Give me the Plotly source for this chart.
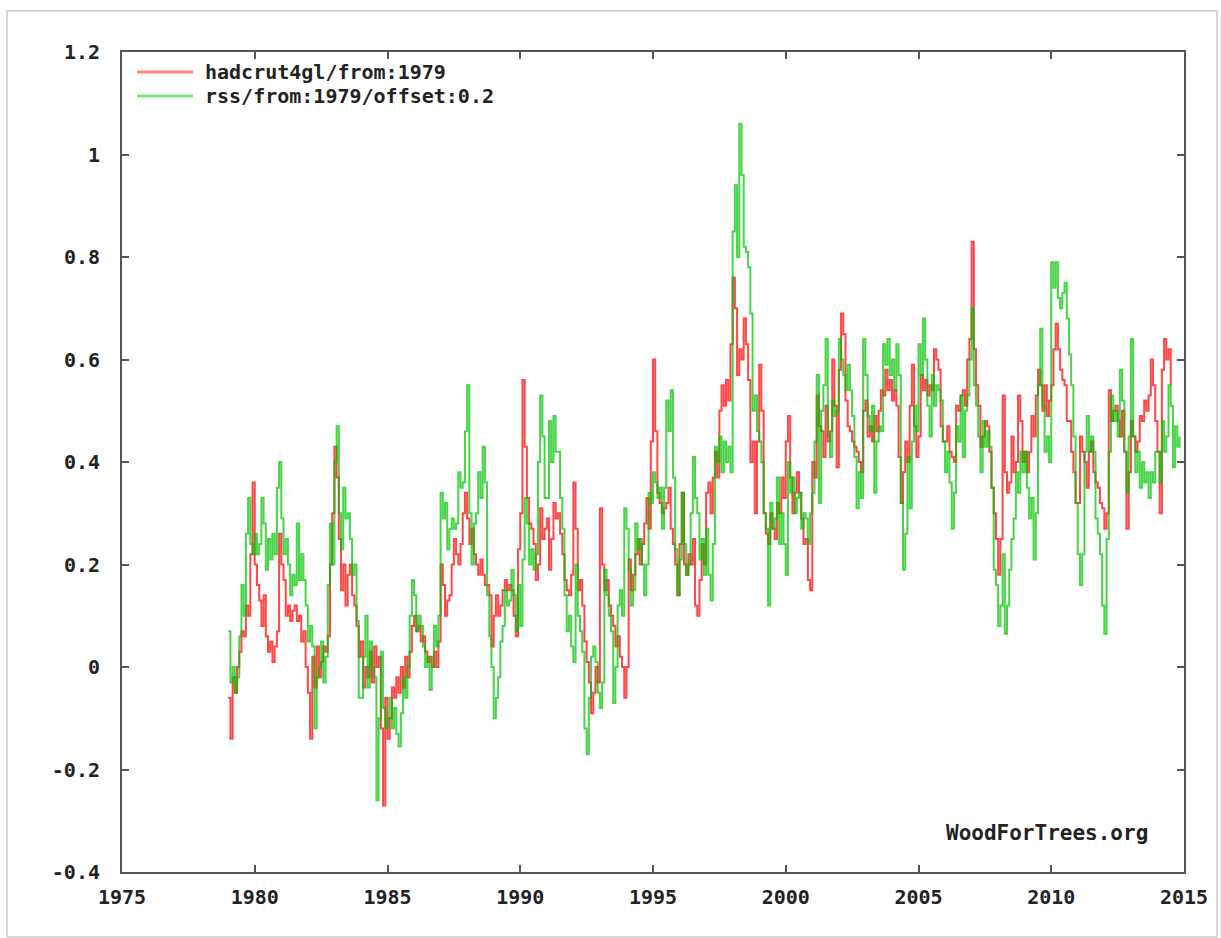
import plotly.graph_objects as go

start_year = 1979

# HadCRUT4 global monthly anomaly, Jan 1979 .. Jul 2014
hadcrut4gl = [
    -0.06, -0.14, -0.02, -0.05, 0.00, 0.03, 0.07, 0.06, 0.12, 0.10, 0.22, 0.36,   # 1979
    0.20, 0.16, 0.13, 0.08, 0.14, 0.06, 0.03, 0.05, 0.01, 0.04, 0.07, 0.26,       # 1980
    0.20, 0.17, 0.10, 0.12, 0.09, 0.11, 0.12, 0.09, 0.10, 0.05, 0.07, 0.00,       # 1981
    -0.05, -0.14, 0.02, -0.04, 0.04, -0.02, 0.01, 0.04, 0.03, 0.06, 0.20, 0.30,   # 1982
    0.43, 0.37, 0.25, 0.15, 0.20, 0.12, 0.18, 0.20, 0.14, 0.12, 0.08, 0.02,       # 1983
    0.05, -0.04, 0.00, -0.02, 0.03, -0.03, 0.04, 0.00, 0.02, -0.12, -0.27, -0.06, # 1984
    -0.14, -0.10, -0.04, -0.06, -0.02, -0.05, 0.00, -0.04, 0.02, -0.02, 0.03, 0.08,  # 1985
    0.10, 0.07, 0.08, 0.05, 0.06, 0.03, 0.01, 0.02, 0.00, 0.03, 0.00, 0.05,       # 1986
    0.20, 0.16, 0.10, 0.13, 0.14, 0.20, 0.25, 0.22, 0.20, 0.24, 0.30, 0.34,       # 1987
    0.29, 0.24, 0.27, 0.22, 0.20, 0.18, 0.21, 0.18, 0.16, 0.16, 0.14, 0.04,       # 1988
    0.10, 0.14, 0.10, 0.12, 0.15, 0.17, 0.15, 0.16, 0.15, 0.10, 0.06, 0.23,       # 1989
    0.30, 0.56, 0.43, 0.33, 0.28, 0.27, 0.24, 0.17, 0.20, 0.31, 0.25, 0.27,       # 1990
    0.29, 0.19, 0.25, 0.32, 0.29, 0.30, 0.26, 0.22, 0.17, 0.15, 0.14, 0.18,       # 1991
    0.36, 0.27, 0.15, 0.17, 0.12, 0.05, 0.01, -0.03, -0.09, -0.05, 0.00, -0.03,   # 1992
    0.31, 0.20, 0.15, 0.17, 0.12, 0.10, 0.08, 0.04, 0.06, 0.02, 0.00, -0.06,      # 1993
    0.00, 0.21, 0.15, 0.18, 0.22, 0.25, 0.20, 0.24, 0.28, 0.33, 0.27, 0.44,       # 1994
    0.60, 0.46, 0.34, 0.32, 0.30, 0.31, 0.32, 0.35, 0.27, 0.24, 0.20, 0.14,       # 1995
    0.24, 0.34, 0.20, 0.18, 0.22, 0.20, 0.25, 0.12, 0.10, 0.17, 0.24, 0.20,       # 1996
    0.34, 0.36, 0.30, 0.37, 0.42, 0.37, 0.50, 0.55, 0.51, 0.56, 0.52, 0.63,       # 1997
    0.76, 0.70, 0.57, 0.62, 0.60, 0.68, 0.63, 0.56, 0.40, 0.44, 0.30, 0.44,       # 1998
    0.59, 0.50, 0.30, 0.26, 0.24, 0.30, 0.27, 0.25, 0.32, 0.30, 0.37, 0.33,       # 1999
    0.44, 0.49, 0.37, 0.30, 0.34, 0.38, 0.34, 0.29, 0.24, 0.25, 0.17, 0.15,       # 2000
    0.40, 0.37, 0.53, 0.47, 0.46, 0.41, 0.51, 0.44, 0.46, 0.60, 0.51, 0.39,       # 2001
    0.58, 0.69, 0.65, 0.52, 0.47, 0.46, 0.44, 0.43, 0.42, 0.40, 0.38, 0.50,       # 2002
    0.52, 0.45, 0.47, 0.44, 0.49, 0.46, 0.50, 0.54, 0.53, 0.58, 0.54, 0.56,       # 2003
    0.52, 0.54, 0.51, 0.41, 0.32, 0.38, 0.44, 0.40, 0.51, 0.59, 0.47, 0.41,       # 2004
    0.45, 0.57, 0.54, 0.56, 0.53, 0.55, 0.54, 0.62, 0.60, 0.58, 0.47, 0.44,       # 2005
    0.44, 0.47, 0.42, 0.41, 0.40, 0.51, 0.50, 0.53, 0.54, 0.51, 0.60, 0.64,       # 2006
    0.83, 0.62, 0.55, 0.51, 0.43, 0.45, 0.48, 0.47, 0.42, 0.35, 0.30, 0.25,       # 2007
    0.18, 0.25, 0.53, 0.38, 0.34, 0.36, 0.45, 0.38, 0.40, 0.53, 0.48, 0.40,       # 2008
    0.42, 0.38, 0.42, 0.49, 0.45, 0.53, 0.58, 0.55, 0.50, 0.55, 0.49, 0.52,       # 2009
    0.55, 0.62, 0.67, 0.62, 0.58, 0.56, 0.55, 0.48, 0.48, 0.42, 0.38, 0.32,       # 2010
    0.32, 0.45, 0.42, 0.40, 0.35, 0.42, 0.44, 0.38, 0.36, 0.35, 0.32, 0.31,       # 2011
    0.27, 0.30, 0.54, 0.48, 0.50, 0.51, 0.48, 0.45, 0.50, 0.42, 0.27, 0.38,       # 2012
    0.48, 0.45, 0.42, 0.44, 0.49, 0.48, 0.52, 0.50, 0.53, 0.60, 0.55, 0.48,       # 2013
    0.42, 0.30, 0.58, 0.64, 0.60, 0.62, 0.55,                                     # 2014
]

# RSS lower troposphere + 0.2 offset, Jan 1979 .. Nov 2014
rss_offset = [
    0.07, -0.03, 0.00, -0.05, -0.02, 0.06, 0.16, 0.10, 0.26, 0.33, 0.24, 0.22,    # 1979
    0.26, 0.22, 0.24, 0.33, 0.28, 0.19, 0.25, 0.21, 0.26, 0.22, 0.35, 0.40,       # 1980
    0.29, 0.22, 0.25, 0.20, 0.14, 0.18, 0.16, 0.28, 0.17, 0.22, 0.17, 0.12,       # 1981
    0.05, 0.08, 0.04, -0.12, -0.02, 0.00, 0.05, -0.03, 0.02, 0.16, 0.28, 0.20,    # 1982
    0.40, 0.47, 0.30, 0.23, 0.35, 0.29, 0.30, 0.25, 0.18, 0.20, 0.09, -0.06,      # 1983
    -0.06, 0.02, 0.10, -0.04, 0.05, 0.00, -0.02, -0.26, -0.10, 0.03, -0.08, -0.12,  # 1984
    -0.10, -0.06, -0.12, -0.08, -0.13, -0.155, -0.09, -0.02, -0.06, 0.00, 0.10, 0.17,  # 1985
    0.14, 0.07, 0.10, 0.08, 0.04, 0.00, 0.02, -0.045, 0.00, 0.08, 0.04, 0.10,     # 1986
    0.34, 0.29, 0.32, 0.23, 0.27, 0.29, 0.27, 0.28, 0.38, 0.35, 0.36, 0.46,       # 1987
    0.55, 0.30, 0.20, 0.28, 0.30, 0.38, 0.33, 0.43, 0.36, 0.14, 0.06, 0.00,       # 1988
    -0.10, -0.06, -0.02, 0.05, 0.08, 0.15, 0.12, 0.13, 0.19, 0.14, 0.07, 0.16,    # 1989
    0.08, 0.21, 0.33, 0.28, 0.20, 0.23, 0.19, 0.22, 0.40, 0.53, 0.45, 0.33,       # 1990
    0.33, 0.48, 0.40, 0.49, 0.42, 0.42, 0.33, 0.27, 0.14, 0.07, 0.10, 0.04,       # 1991
    0.01, 0.20, 0.10, 0.07, 0.03, -0.12, -0.17, -0.06, 0.02, 0.04, 0.01, -0.05,   # 1992
    -0.08, -0.03, 0.19, 0.14, 0.10, 0.07, -0.07, 0.00, 0.12, 0.15, 0.10, 0.31,    # 1993
    0.27, 0.19, 0.12, 0.15, 0.28, 0.23, 0.25, 0.20, 0.14, 0.20, 0.34, 0.32,       # 1994
    0.38, 0.36, 0.33, 0.35, 0.27, 0.35, 0.52, 0.46, 0.54, 0.37, 0.23, 0.14,       # 1995
    0.21, 0.34, 0.24, 0.18, 0.20, 0.30, 0.41, 0.33, 0.30, 0.21, 0.25, 0.18,       # 1996
    0.27, 0.18, 0.13, 0.24, 0.43, 0.40, 0.45, 0.38, 0.44, 0.40, 0.43, 0.38,       # 1997
    0.85, 0.94, 0.80, 1.06, 0.96, 0.82, 0.81, 0.78, 0.69, 0.50, 0.53, 0.46,       # 1998
    0.44, 0.40, 0.30, 0.27, 0.12, 0.32, 0.27, 0.29, 0.37, 0.24, 0.30, 0.24,       # 1999
    0.18, 0.40, 0.34, 0.37, 0.30, 0.33, 0.34, 0.27, 0.30, 0.29, 0.24, 0.30,       # 2000
    0.34, 0.44, 0.57, 0.32, 0.50, 0.55, 0.64, 0.45, 0.41, 0.52, 0.49, 0.50,       # 2001
    0.64, 0.60, 0.57, 0.54, 0.59, 0.54, 0.49, 0.41, 0.31, 0.38, 0.33, 0.64,       # 2002
    0.57, 0.49, 0.46, 0.51, 0.34, 0.44, 0.47, 0.46, 0.63, 0.59, 0.64, 0.57,       # 2003
    0.60, 0.54, 0.63, 0.57, 0.32, 0.19, 0.26, 0.41, 0.31, 0.44, 0.51, 0.46,       # 2004
    0.63, 0.57, 0.68, 0.60, 0.51, 0.45, 0.57, 0.51, 0.55, 0.54, 0.52, 0.44,       # 2005
    0.38, 0.42, 0.36, 0.27, 0.34, 0.47, 0.44, 0.53, 0.41, 0.50, 0.53, 0.60,       # 2006
    0.70, 0.55, 0.51, 0.45, 0.38, 0.48, 0.43, 0.46, 0.43, 0.35, 0.19, 0.16,       # 2007
    0.08, 0.12, 0.22, 0.065, 0.12, 0.19, 0.25, 0.29, 0.38, 0.34, 0.42, 0.38,      # 2008
    0.42, 0.35, 0.29, 0.33, 0.21, 0.30, 0.55, 0.66, 0.51, 0.42, 0.45, 0.40,       # 2009
    0.79, 0.74, 0.79, 0.72, 0.70, 0.73, 0.75, 0.68, 0.61, 0.55, 0.45, 0.32,       # 2010
    0.22, 0.16, 0.22, 0.42, 0.49, 0.42, 0.45, 0.42, 0.29, 0.26, 0.22, 0.12,       # 2011
    0.065, 0.25, 0.42, 0.53, 0.48, 0.50, 0.45, 0.58, 0.52, 0.42, 0.34, 0.45,      # 2012
    0.64, 0.45, 0.38, 0.42, 0.35, 0.40, 0.36, 0.38, 0.33, 0.38, 0.36, 0.42,       # 2013
    0.42, 0.36, 0.48, 0.42, 0.45, 0.55, 0.51, 0.39, 0.47, 0.43, 0.45,             # 2014
]

series_names = ["hadcrut4gl/from:1979", "rss/from:1979/offset:0.2"]
series_colors = ["rgba(255,0,0,0.72)", "rgba(0,195,0,0.72)"]
legend_colors = ["rgba(255,40,40,0.55)", "rgba(30,200,30,0.55)"]

x_tick_vals = [1975, 1980, 1985, 1990, 1995, 2000, 2005, 2010, 2015]
x_tick_text = ["1975", "1980", "1985", "1990", "1995", "2000", "2005", "2010", "2015"]
y_tick_vals = [-0.4, -0.2, 0, 0.2, 0.4, 0.6, 0.8, 1.0, 1.2]
y_tick_text = ["-0.4", "-0.2", "0", "0.2", "0.4", "0.6", "0.8", "1", "1.2"]

FONT = "DejaVu Sans Mono"
W, H = 1221, 938
ML, MR, MT, MB = 122, 37, 52, 66
PW, PH = W - ML - MR, H - MT - MB


def px_x(px):
    return (px - ML) / PW


def px_y(py):
    return (H - MB - py) / PH


fig = go.Figure()
for vals, name, col in zip([hadcrut4gl, rss_offset], series_names, series_colors):
    xs = [start_year + i / 12 for i in range(len(vals))]
    fig.add_trace(go.Scatter(x=xs, y=vals, mode="lines", name=name,
                             line=dict(color=col, width=2, shape="hv"),
                             showlegend=False, hoverinfo="x+y"))

axis_common = dict(showline=True, linecolor="#555555", linewidth=2, mirror="ticks",
                   ticks="inside", ticklen=7, tickwidth=2, tickcolor="#555555",
                   showgrid=False, zeroline=False,
                   tickfont=dict(family=FONT, size=20, color="#222222", weight="bold"))

fig.update_xaxes(range=[1975, 2015], tickmode="array", tickvals=x_tick_vals,
                 ticktext=x_tick_text, ticklabelstandoff=6, **axis_common)
fig.update_yaxes(range=[-0.4, 1.2], tickmode="array", tickvals=y_tick_vals,
                 ticktext=y_tick_text, ticklabelstandoff=16, **axis_common)

shapes = [
    # outer light frame
    dict(type="rect", xref="paper", yref="paper",
         x0=px_x(7), x1=px_x(1217), y0=px_y(937), y1=px_y(11),
         line=dict(color="#cccccc", width=1.5), layer="below"),
]
annotations = []
legend_rows = [72, 96]
for name, col, ry in zip(series_names, legend_colors, legend_rows):
    shapes.append(dict(type="line", xref="paper", yref="paper",
                       x0=px_x(137), x1=px_x(193), y0=px_y(ry), y1=px_y(ry),
                       line=dict(color=col, width=3)))
    annotations.append(dict(xref="paper", yref="paper", x=px_x(203), y=px_y(ry),
                            xanchor="left", yanchor="middle", showarrow=False,
                            text=name,
                            font=dict(family=FONT, size=20, color="#222222", weight="bold")))

annotations.append(dict(xref="paper", yref="paper", x=px_x(1150), y=px_y(833),
                        xanchor="right", yanchor="middle", showarrow=False,
                        text="WoodForTrees.org",
                        font=dict(family=FONT, size=21, color="#222222", weight="bold")))

fig.update_layout(width=W, height=H, margin=dict(l=ML, r=MR, t=MT, b=MB),
                  paper_bgcolor="white", plot_bgcolor="white",
                  shapes=shapes, annotations=annotations, showlegend=False)

fig.write_html("out.html", config={"displayModeBar": False},
               post_script="document.body.style.margin='0';document.body.style.overflow='hidden';")
